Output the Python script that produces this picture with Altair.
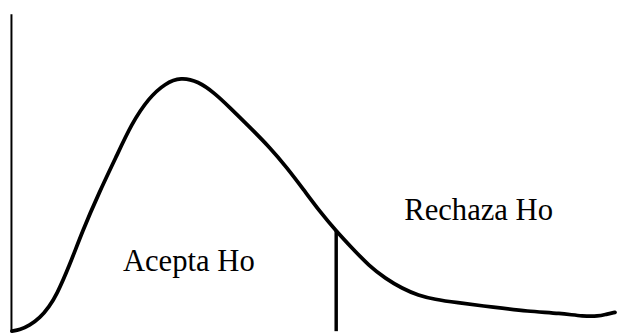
import altair as alt
import pandas as pd

# Curve readings (x in distribution units, y = density)
curve_x = [0.02, 0.18, 0.37, 0.57, 0.76, 0.90, 1.16, 1.41, 1.75, 2.08, 2.39, 2.73,
           3.06, 3.37, 3.71, 4.04, 4.35, 4.69, 5.14, 5.47, 5.80, 6.12, 6.45, 6.78,
           7.10, 7.43, 7.76, 8.08, 8.41, 8.80, 9.59, 10.24, 10.90, 11.35, 11.65,
           11.80, 11.98]
curve_y = [0.000, 0.0013, 0.006, 0.013, 0.025, 0.036, 0.066, 0.100, 0.140, 0.175,
           0.209, 0.235, 0.250, 0.256, 0.252, 0.240, 0.225, 0.208, 0.185, 0.165,
           0.143, 0.121, 0.101, 0.083, 0.066, 0.053, 0.043, 0.036, 0.032, 0.029,
           0.024, 0.020, 0.018, 0.015, 0.015, 0.017, 0.019]

critical_x = [6.45]
critical_top = [0.101]

label_text = ["Acepta Ho", "Rechaza Ho"]
label_x = [2.22, 7.80]
label_y = [0.061, 0.112]

X_DOMAIN = [0, 12]
Y_DOMAIN = [0, 0.32]

curve_df = pd.DataFrame({"x": curve_x, "y": curve_y})
crit_df = pd.DataFrame({"x": critical_x, "y0": [0.0], "y1": critical_top})
label_df = pd.DataFrame({"text": label_text, "x": label_x, "y": label_y})

xs = alt.Scale(domain=X_DOMAIN, nice=False, zero=False)
ys = alt.Scale(domain=Y_DOMAIN, nice=False, zero=False)

curve = alt.Chart(curve_df).mark_line(
    color="black", strokeWidth=3.8, interpolate="basis", clip=False,
    strokeCap="round"
).encode(
    x=alt.X("x:Q", scale=xs, axis=None),
    y=alt.Y("y:Q", scale=ys, axis=alt.Axis(
        domain=True, domainColor="black", domainWidth=2, ticks=False,
        labels=False, grid=False, title=None)),
)

crit = alt.Chart(crit_df).mark_rule(color="black", strokeWidth=3.5).encode(
    x=alt.X("x:Q", scale=xs),
    y=alt.Y("y0:Q", scale=ys),
    y2="y1:Q",
)

labels = alt.Chart(label_df).mark_text(
    font="Liberation Serif", fontSize=31, color="black",
    align="left", baseline="alphabetic"
).encode(
    x=alt.X("x:Q", scale=xs),
    y=alt.Y("y:Q", scale=ys),
    text="text:N",
)

chart = alt.layer(curve, crit, labels).properties(
    width=612, height=321,
    autosize=alt.AutoSizeParams(type="none"),
    padding={"left": 3, "top": 4, "right": 3, "bottom": 1},
    background="white",
).configure_view(stroke=None)

chart.save("out.html", embed_options={"renderer": "svg", "actions": False})
